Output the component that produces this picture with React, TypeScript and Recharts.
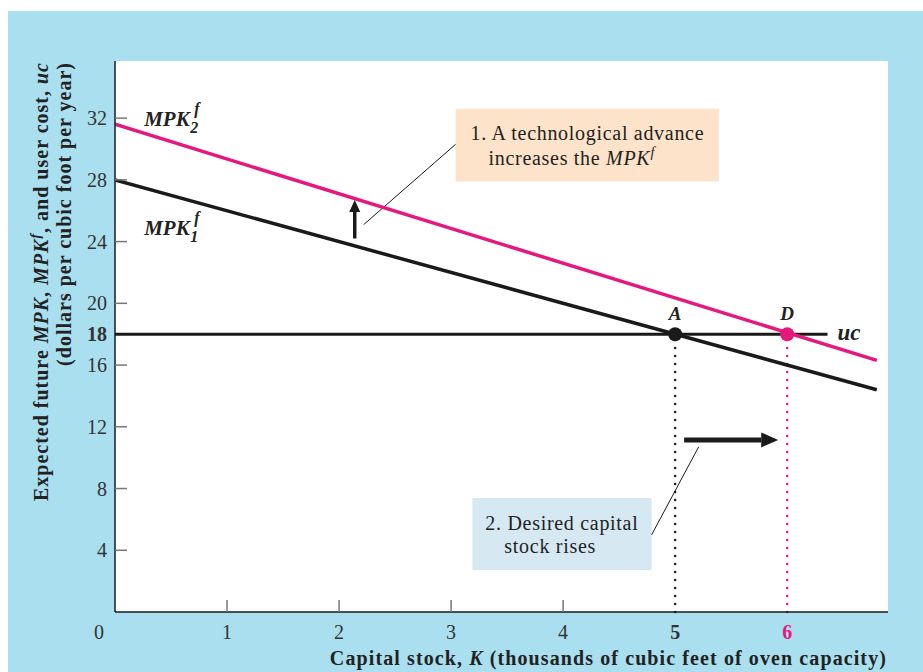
import React from 'react';
import {
  ComposedChart,
  Line,
  XAxis,
  YAxis,
  CartesianGrid,
  ReferenceLine,
  ReferenceDot,
  ReferenceArea,
} from 'recharts';

const PINK = '#e6177d';
const INK = '#1a1a1a';
const SERIF = '"Liberation Serif", "DejaVu Serif", serif';

// axes
const xTicks = [0, 1, 2, 3, 4, 5, 6];
const yTicks = [4, 8, 12, 16, 18, 20, 24, 28, 32];

// curves (capital stock K in thousands, value in dollars)
const mpk1 = [
  { k: 0, v: 28 },
  { k: 6.8, v: 14.4 },
];
const mpk2 = [
  { k: 0, v: 31.6 },
  { k: 6.8, v: 16.3 },
];
const userCost = [
  { k: 0, v: 18 },
  { k: 6.36, v: 18 },
];

// equilibrium points
const equilibria = [
  { name: 'A', k: 5, v: 18, color: INK },
  { name: 'D', k: 6, v: 18, color: PINK },
];

// annotations
const curveTags = [
  { id: 'mpk2', k: 0.26, v: 31.5, sub: '2' },
  { id: 'mpk1', k: 0.26, v: 24.4, sub: '1' },
];
const ucTag = { k: 6.45, v: 17.6 };
const upArrow = { k: 2.14, from: 24.2, to: 26.7 };
const rightArrow = { v: 11.15, from: 5.08, to: 5.92 };
const box1 = { k1: 3.04, k2: 5.39, v1: 27.9, v2: 32.6 };
const box2 = { k1: 3.19, k2: 4.79, v1: 2.72, v2: 7.39 };
const leader1 = [{ x: 2.22, y: 25.1 }, { x: 3.04, y: 30.3 }];
const leader2 = [{ x: 5.21, y: 10.7 }, { x: 4.79, y: 5.0 }];

const YTick = (props: any) => {
  const { x, y, payload } = props;
  const bold = payload.value === 18;
  return (
    <g>
      {!bold && <line x1={x} x2={x + 12} y1={y} y2={y} stroke="#777" strokeWidth={1.5} />}
      <text
        x={x - 8}
        y={y}
        dy={7}
        textAnchor="end"
        fontFamily={SERIF}
        fontSize={20}
        fontWeight={bold ? 700 : 400}
        fill="#333"
      >
        {payload.value}
      </text>
    </g>
  );
};

const XTick = (props: any) => {
  const { x, y, payload } = props;
  const v = payload.value;
  if (v === 0) {
    return (
      <text x={x - 16} y={y + 27} textAnchor="middle" fontFamily={SERIF} fontSize={20} fill="#333">
        0
      </text>
    );
  }
  const special = v === 5 || v === 6;
  return (
    <g>
      {!special && <line x1={x} x2={x} y1={y} y2={y - 12} stroke="#777" strokeWidth={1.5} />}
      <text
        x={x}
        y={y + 27}
        textAnchor="middle"
        fontFamily={SERIF}
        fontSize={20}
        fontWeight={special ? 700 : 400}
        fill={v === 6 ? PINK : '#333'}
      >
        {v}
      </text>
    </g>
  );
};

const YTitle = () => (
  <g fontFamily={SERIF} fontSize={20} fontWeight={700} fill="#222" letterSpacing={1}>
    <text x={40} y={51} transform="rotate(-90 40 51)" textAnchor="end">
      Expected future <tspan fontStyle="italic">MPK</tspan>, <tspan fontStyle="italic">MPK</tspan>
      <tspan fontStyle="italic" fontSize={14} dy={-8}>f</tspan>
      <tspan dy={8}>, and user cost, </tspan>
      <tspan fontStyle="italic">uc</tspan>
    </text>
    <text x={63} y={51} transform="rotate(-90 63 51)" textAnchor="end">
      (dollars per cubic foot per year)
    </text>
  </g>
);

const XTitle = () => (
  <text
    x={879}
    y={654}
    textAnchor="end"
    fontFamily={SERIF}
    fontSize={20}
    fontWeight={700}
    fill="#222"
    letterSpacing={1.1}
  >
    Capital stock, <tspan fontStyle="italic">K</tspan> (thousands of cubic feet of oven capacity)
  </text>
);

const Arrow = (head: number, width: number, thick: number) => (p: any) => {
  const { x1, y1, x2, y2 } = p;
  const ang = Math.atan2(y2 - y1, x2 - x1);
  const bx = x2 - head * Math.cos(ang);
  const by = y2 - head * Math.sin(ang);
  const px = -Math.sin(ang) * width;
  const py = Math.cos(ang) * width;
  return (
    <g>
      <line x1={x1} y1={y1} x2={bx} y2={by} stroke={INK} strokeWidth={thick} />
      <polygon points={`${x2},${y2} ${bx + px},${by + py} ${bx - px},${by - py}`} fill={INK} />
    </g>
  );
};

const CurveTag = (sub: string) => (p: any) => {
  const { x, y } = p.viewBox;
  return (
    <g fontFamily={SERIF} fontWeight={700} fontStyle="italic" fill="#222">
      <text x={x} y={y} fontSize={21}>
        MPK
      </text>
      <text x={x + 46} y={y + 7} fontSize={16}>
        {sub}
      </text>
      <text x={x + 50} y={y - 12} fontSize={16}>
        f
      </text>
    </g>
  );
};

const PointTag = (name: string) => (p: any) => {
  const { x, y, width, height } = p.viewBox;
  return (
    <text
      x={x + width / 2}
      y={y + height / 2 - 14}
      textAnchor="middle"
      fontFamily={SERIF}
      fontSize={19}
      fontWeight={700}
      fontStyle="italic"
      fill="#222"
    >
      {name}
    </text>
  );
};

const BoxText = (lines: { dx: number; dy: number; node: React.ReactNode }[]) => (p: any) => {
  const { x, y } = p.viewBox;
  return (
    <g fontFamily={SERIF} fontSize={20} fill="#222" letterSpacing={0.7}>
      {lines.map((l, i) => (
        <text key={i} x={x + l.dx} y={y + l.dy}>
          {l.node}
        </text>
      ))}
    </g>
  );
};

export default function App() {
  return (
    <div style={{ padding: '11px 0 0 8px' }}>
      <style>{'html,body{margin:0;overflow:hidden}'}</style>
      <ComposedChart
        width={915}
        height={661}
        margin={{ top: 50, right: 35, bottom: 0, left: 0 }}
        style={{ background: '#aadfef' }}
      >
        <CartesianGrid fill="#ffffff" horizontal={false} vertical={false} />
        <XAxis
          dataKey="k"
          type="number"
          domain={[0, 6.9]}
          ticks={xTicks}
          interval={0}
          height={60}
          tickSize={0}
          tickMargin={0}
          tickLine={false}
          axisLine={{ stroke: INK, strokeWidth: 1.5 }}
          tick={<XTick />}
          allowDataOverflow
        />
        <YAxis
          type="number"
          domain={[0, 35.7]}
          ticks={yTicks}
          interval={0}
          width={107}
          tickSize={0}
          tickMargin={0}
          tickLine={false}
          axisLine={{ stroke: INK, strokeWidth: 1.5 }}
          tick={<YTick />}
          allowDataOverflow
        />

        <ReferenceArea x1={box1.k1} x2={box1.k2} y1={box1.v1} y2={box1.v2} fill="#fde3c9" fillOpacity={1} stroke="none"
          label={BoxText([
            { dx: 15, dy: 31, node: '1. A technological advance' },
            { dx: 33, dy: 56, node: <>increases the <tspan fontStyle="italic">MPK</tspan><tspan fontStyle="italic" fontSize={14} dy={-8}>f</tspan></> },
          ])}
        />
        <ReferenceArea x1={box2.k1} x2={box2.k2} y1={box2.v1} y2={box2.v2} fill="#d6e9f2" fillOpacity={1} stroke="none"
          label={BoxText([
            { dx: 13, dy: 32, node: '2. Desired capital' },
            { dx: 32, dy: 55, node: 'stock rises' },
          ])}
        />

        <ReferenceLine segment={[{ x: 5, y: 0 }, { x: 5, y: 18 }]} stroke={INK} strokeWidth={2.5} strokeDasharray="0 8" strokeLinecap="round" />
        <ReferenceLine segment={[{ x: 6, y: 0 }, { x: 6, y: 18 }]} stroke={PINK} strokeWidth={2.5} strokeDasharray="0 8" strokeLinecap="round" />
        <ReferenceLine segment={leader1} stroke={INK} strokeWidth={1} />
        <ReferenceLine segment={leader2} stroke={INK} strokeWidth={1} />

        <Line data={userCost} dataKey="v" stroke={INK} strokeWidth={3} dot={false} isAnimationActive={false} />
        <Line data={mpk1} dataKey="v" stroke={INK} strokeWidth={3.5} dot={false} isAnimationActive={false} />
        <Line data={mpk2} dataKey="v" stroke={PINK} strokeWidth={3.5} dot={false} isAnimationActive={false} />

        <ReferenceLine segment={[{ x: upArrow.k, y: upArrow.from }, { x: upArrow.k, y: upArrow.to }]} shape={Arrow(12, 5.5, 3.5)} />
        <ReferenceLine segment={[{ x: rightArrow.from, y: rightArrow.v }, { x: rightArrow.to, y: rightArrow.v }]} shape={Arrow(17, 7.5, 5)} />

        {equilibria.map((p) => (
          <ReferenceDot key={p.name} x={p.k} y={p.v} r={7} fill={p.color} stroke="none" label={PointTag(p.name)} />
        ))}
        {curveTags.map((t) => (
          <ReferenceDot key={t.id} x={t.k} y={t.v} r={0} fill="none" stroke="none" label={CurveTag(t.sub)} />
        ))}
        <ReferenceDot x={ucTag.k} y={ucTag.v} r={0} fill="none" stroke="none"
          label={(p: any) => (
            <text x={p.viewBox.x} y={p.viewBox.y} fontFamily={SERIF} fontSize={23} fontWeight={700} fontStyle="italic" fill="#222">uc</text>
          )}
        />

        <YTitle />
        <XTitle />
      </ComposedChart>
    </div>
  );
}
